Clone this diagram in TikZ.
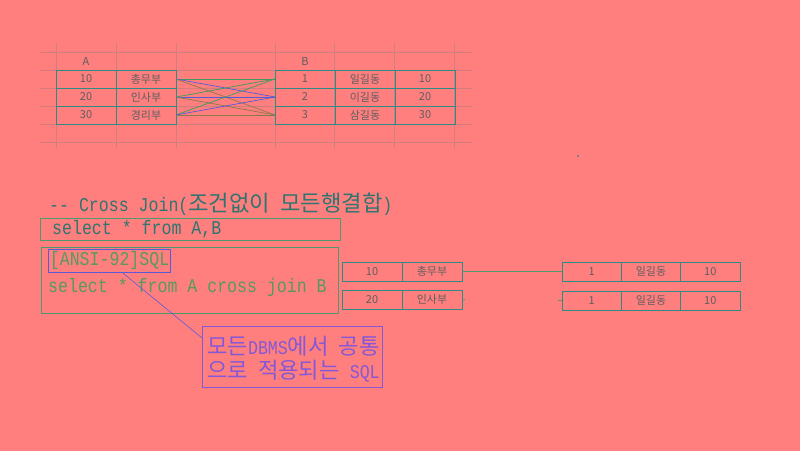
\documentclass[tikz,border=0pt]{standalone}
\usepackage{fontspec}
\setmainfont{Noto Sans CJK KR}
\newfontfamily\codefont[FakeStretch=0.85]{Liberation Mono}
\newfontfamily\krcode[Scale=1.14]{Noto Sans CJK KR}
\usetikzlibrary{positioning}
\definecolor{bgsalmon}{HTML}{FF7F7F}
\definecolor{gridgray}{HTML}{D27E7E}
\definecolor{tealline}{HTML}{2E8A82}
\definecolor{cellgray}{HTML}{5E5E5E}
\definecolor{titleteal}{HTML}{2C7570}
\definecolor{codegreen}{HTML}{4E9A6E}
\definecolor{codetextgreen}{HTML}{559A5E}
\definecolor{ansiblue}{HTML}{5A5AD8}
\definecolor{notepurple}{HTML}{8458D6}
\definecolor{lineone}{HTML}{3E9A5E}
\definecolor{linetwo}{HTML}{5A5AD8}
\definecolor{linethree}{HTML}{8A7A4A}
\newcommand{\kor}[1]{{\krcode #1}}
\newcommand{\cellsize}{\fontsize{11bp}{13bp}\selectfont}
\newcommand{\codesize}{\fontsize{19.5bp}{25bp}\selectfont\codefont}

\begin{document}
\begin{tikzpicture}[
  x=1bp, y=-1bp,
  cell/.style      = {draw=tealline, line width=0.8pt, minimum width=60bp,
                       minimum height=18bp, inner sep=0pt, outer sep=0pt,
                       text=cellgray, font=\cellsize},
  rowcell/.style   = {cell, minimum height=19bp},
  farcell/.style   = {rowcell, minimum width=59.3bp},
  headlabel/.style = {text=cellgray, font=\cellsize, inner sep=0pt},
  codetext/.style  = {font=\codesize, inner sep=0pt, anchor=west},
  codebox/.style   = {draw=codegreen, line width=0.8pt, anchor=north west,
                       inner sep=0pt},
  ansibox/.style   = {draw=ansiblue, line width=0.8pt, anchor=north west,
                       font=\codesize, text=codetextgreen, inner xsep=1.5bp,
                       inner ysep=0pt, minimum height=23bp},
  notebox/.style   = {draw=notepurple, line width=0.8pt, anchor=north west,
                       inner sep=0pt, minimum width=180bp, minimum height=61bp},
  tobone/.style    = {draw=lineone, line width=0.7pt},
  tobtwo/.style    = {draw=linetwo, line width=0.7pt},
  tobthree/.style  = {draw=linethree, line width=0.7pt},
  joinline/.style  = {draw=codegreen, line width=0.8pt},
  noteline/.style  = {draw=ansiblue, line width=0.6pt},
]

  % ------------------------------------------------------------ background
  \useasboundingbox (0,0) rectangle (800,451);
  \fill[bgsalmon] (0,0) rectangle (800,451);

  % ------------------------------------------------------------- sheet grid
  \foreach \gy in {52,70,88,106,124,142}
    \draw[gridgray, line width=0.6pt] (40,\gy) -- (472,\gy);
  \foreach \gx in {56,116,176,275,334,394,454}
    \draw[gridgray, line width=0.6pt] (\gx,43) -- (\gx,148);
  \fill[gray] (577,155.5) rectangle (579,157);

  % ---------------------------------------------------------------- table A
  \node[headlabel] (hA) at (86,61) {A};
  \node[cell, anchor=north west] (a1n) at (56,70) {10};
  \node[cell, right=0bp of a1n]  (a1d) {총무부};
  \node[cell, below=0bp of a1n]  (a2n) {20};
  \node[cell, right=0bp of a2n]  (a2d) {인사부};
  \node[cell, below=0bp of a2n]  (a3n) {30};
  \node[cell, right=0bp of a3n]  (a3d) {경리부};

  % ---------------------------------------------------------------- table B
  \node[headlabel] (hB) at (305,61) {B};
  \node[cell, anchor=north west] (b1n) at (275,70) {1};
  \node[cell, right=0bp of b1n]  (b1m) {일길동};
  \node[cell, right=0bp of b1m]  (b1d) {10};
  \node[cell, below=0bp of b1n]  (b2n) {2};
  \node[cell, right=0bp of b2n]  (b2m) {이길동};
  \node[cell, right=0bp of b2m]  (b2d) {20};
  \node[cell, below=0bp of b2n]  (b3n) {3};
  \node[cell, right=0bp of b3n]  (b3m) {삼길동};
  \node[cell, right=0bp of b3m]  (b3d) {30};

  % ------------------------------------------------------------ cross lines
  \draw[tobone]   (a1d.east) -- (b1n.west);
  \draw[tobtwo]   (a1d.east) -- (b2n.west);
  \draw[tobthree] (a1d.east) -- (b3n.west);
  \draw[tobone]   (a2d.east) -- (b1n.west);
  \draw[tobtwo]   (a2d.east) -- (b2n.west);
  \draw[tobthree] (a2d.east) -- (b3n.west);
  \draw[tobone]   (a3d.east) -- (b1n.west);
  \draw[tobtwo]   (a3d.east) -- (b2n.west);
  \draw[tobthree] (a3d.east) -- (b3n.west);

  % ------------------------------------------------------------------ query
  \node[codetext, text=titleteal] (title) at (49,204)
        {-- Cross Join(\kor{조건없이} \kor{모든행결합})};
  \node[codebox, minimum width=300bp, minimum height=22bp] (q1box) at (40,218) {};
  \node[codetext, text=titleteal] (q1) at (52,229) {select * from A,B};
  \node[codebox, minimum width=297bp, minimum height=66bp] (q2box) at (41,247) {};
  \node[ansibox] (ansi) at (48,249) {[ANSI-92]SQL};
  \node[codetext, text=codetextgreen] (q2) at (48,287)
        {select * from A cross join B};

  % ---------------------------------------------------------------- callout
  \node[notebox] (note) at (202,326) {};
  \node[codetext, text=notepurple] (notea) at (207,346)
        {\kor{모든}DBMS\kor{에서} \kor{공통}};
  \node[codetext, text=notepurple] (noteb) at (207,371)
        {\kor{으로} \kor{적용되는} SQL};
  \draw[noteline] ([xshift=13bp]ansi.south) -- ([yshift=-12bp]note.north west);

  % ----------------------------------------------------------- result rows
  \node[rowcell, anchor=north west] (r1a) at (342,262) {10};
  \node[rowcell, right=0bp of r1a]  (r1b) {총무부};
  \node[farcell, anchor=north west] (r1c) at (562,262) {1};
  \node[farcell, right=0bp of r1c]  (r1d) {일길동};
  \node[farcell, right=0bp of r1d]  (r1e) {10};
  \draw[joinline] (r1b.east) -- (r1c.west);

  \node[rowcell, anchor=north west] (r2a) at (342,290) {20};
  \node[rowcell, right=0bp of r2a]  (r2b) {인사부};
  \node[farcell, anchor=north west] (r2c) at (562,291) {1};
  \node[farcell, right=0bp of r2c]  (r2d) {일길동};
  \node[farcell, right=0bp of r2d]  (r2e) {10};
  \draw[joinline] (r2b.east) -- ++(3bp,0);
  \draw[joinline] (r2c.west) -- ++(-4bp,0);

\end{tikzpicture}
\end{document}
